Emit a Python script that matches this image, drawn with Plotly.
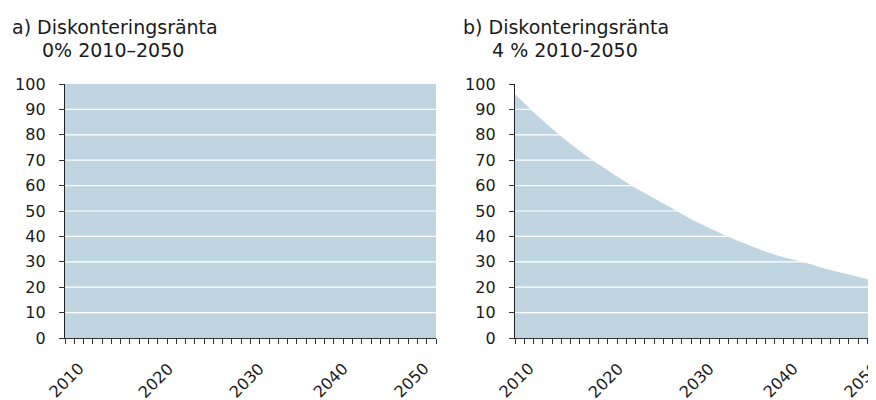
import plotly.graph_objects as go

years = list(range(2010, 2051))
rate_0 = [100] * 41
rate_4 = [96.0, 92.4, 88.9, 85.6, 82.4, 79.3, 76.4, 73.6, 70.9, 68.4,
          66.0, 63.6, 61.3, 59.1, 57.0, 55.0, 53.0, 51.0, 48.8, 46.8,
          45.0, 43.2, 41.5, 39.9, 38.3, 36.9, 35.4, 34.1, 32.8, 31.8,
          30.8, 29.9, 28.9, 27.8, 26.8, 25.9, 25.0, 24.1, 23.2, 22.3, 21.5]
y_ticks = [0, 10, 20, 30, 40, 50, 60, 70, 80, 90, 100]
x_ticks = [2010, 2020, 2030, 2040, 2050]

FILL = "#bfd6e2"
FONT = "DejaVu Sans"
TXT = "#1a1a1a"
# the page body adds an 8px offset, so the figure is laid out 8px up/left
OFF = 8
W, H = 886, 400
ML, MT = 65 - OFF, 84 - OFF
MB = H - (338 - OFF)
MR = W - (886 - OFF)
PW = W - ML - MR
PH = H - MT - MB
# the original year labels drift left of their ticks towards the right end
label_shift = [1, -2, -4, -13, -25]


def px(x):
    return (x - OFF - ML) / PW


def py(y):
    return (H - MB - (y - OFF)) / PH


fig = go.Figure()
fig.add_trace(go.Scatter(x=years, y=rate_0, fill="tozeroy", mode="none",
                         fillcolor=FILL, xaxis="x", yaxis="y", showlegend=False))
fig.add_trace(go.Scatter(x=years, y=rate_4, fill="tozeroy", mode="none",
                         fillcolor=FILL, xaxis="x2", yaxis="y2", showlegend=False))

# white grid lines drawn over the fill
for xr, yr in [("x", "y"), ("x2", "y2")]:
    for v in y_ticks[1:-1]:
        fig.add_shape(type="line", xref=f"{xr} domain", yref=yr, x0=0, x1=1, y0=v, y1=v,
                      line=dict(color="white", width=1.2), layer="above")
    for yr_lbl, dx in zip(x_ticks, label_shift):
        fig.add_annotation(text=str(yr_lbl), x=yr_lbl, y=0, xref=xr, yref=yr, showarrow=False,
                           textangle=-45, xanchor="center", yanchor="middle",
                           xshift=dx, yshift=-42, font=dict(family=FONT, size=16, color=TXT))

xaxis_common = dict(range=[2010, 2050], tickvals=x_ticks, showticklabels=False,
                    ticks="outside", ticklen=5, tickwidth=1, tickcolor="#333",
                    showgrid=False, zeroline=False, showline=True,
                    linecolor="#333", linewidth=1,
                    minor=dict(dtick=1, ticks="outside", ticklen=5, tickwidth=1, tickcolor="#333"))
yaxis_common = dict(range=[0, 100], tickvals=y_ticks, ticks="outside", ticklen=5, tickwidth=1,
                    tickcolor="#333", showgrid=False, zeroline=False, showline=True,
                    linecolor="#222", linewidth=1.3, ticklabelstandoff=10,
                    tickfont=dict(family=FONT, size=16, color=TXT))

fig.update_layout(
    width=W, height=H,
    margin=dict(l=ML, r=MR, t=MT, b=MB),
    plot_bgcolor="white", paper_bgcolor="white",
    xaxis=dict(domain=[px(65), px(436)], anchor="y", **xaxis_common),
    yaxis=dict(anchor="x", **yaxis_common),
    xaxis2=dict(domain=[px(515), px(886)], anchor="y2", **xaxis_common),
    yaxis2=dict(anchor="x2", **yaxis_common),
)

titles = [
    (10, 14, "a) Diskonteringsränta"),
    (40, 37, "0% 2010–2050"),
    (461, 14, "b) Diskonteringsränta"),
    (490, 37, "4 % 2010-2050"),
]
for x0, y0, txt in titles:
    fig.add_annotation(text=txt, x=px(x0), y=py(y0), xref="paper", yref="paper",
                       xanchor="left", yanchor="top", showarrow=False,
                       font=dict(family=FONT, size=19, color=TXT))

fig.write_html("out.html")
